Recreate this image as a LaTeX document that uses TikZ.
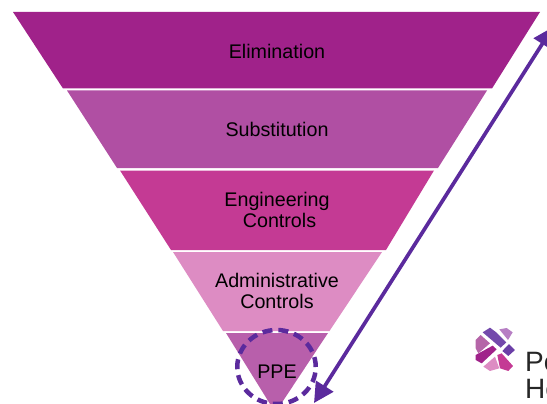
\documentclass[tikz,border=0pt]{standalone}
\usepackage{fontspec}
\setmainfont{Liberation Sans}
\usetikzlibrary{arrows.meta,shapes.geometric}
\definecolor{bandA}{HTML}{A0228A}
\definecolor{bandB}{HTML}{B04FA3}
\definecolor{bandC}{HTML}{C43A94}
\definecolor{bandD}{HTML}{DD8CC3}
\definecolor{bandE}{HTML}{B85FAB}
\definecolor{accent}{HTML}{5B2A9D}
\definecolor{logoPale}{HTML}{B77FC4}
\definecolor{logoMauve}{HTML}{B565A8}
\tikzset{
  x=1pt,y=-1pt,
  label text/.style={font=\fontsize{19.7}{20.5}\selectfont,align=center,text=black,inner sep=0pt},
  accent line/.style={draw=accent,line width=3.7pt},
  logo text/.style={font=\fontsize{28}{28}\selectfont,anchor=base west,inner sep=0pt,text=black!85}
}
\begin{document}
\begin{tikzpicture}
\useasboundingbox (0,0) rectangle (547,404);
\clip (0,0) rectangle (547,404);
% funnel bands
\fill[bandA] (13,12) -- (540,12) -- (492,88.5) -- (63,88.5) -- cycle;
\fill[bandB] (67,90.5) -- (487,90.5) -- (438,168) -- (117,168) -- cycle;
\fill[bandC] (120,170.5) -- (434,170.5) -- (386,250) -- (171,250) -- cycle;
\fill[bandD] (173,252) -- (382,252) -- (329.5,331) -- (223,331) -- cycle;
\fill[bandE] (226,333) -- (328,333) -- (281,404) -- (270,404) -- cycle;
% labels
\node[label text] (elim) at (277,51) {Elimination};
\node[label text] (subst) at (277,129) {Substitution};
\node[label text] (eng) at (277,210) {Engineering\\\hspace*{5pt}Controls};
\node[label text] (admin) at (277,291) {Administrative\\Controls};
\node[label text] (ppe) at (277,372) {PPE};
% dashed ring
\node[ellipse,draw=accent,line width=4.5pt,dash pattern=on 10pt off 6pt,minimum width=78.5pt,minimum height=74pt,inner sep=0pt] (ring) at (276.5,367) {};
% double arrow
\coordinate (low) at (314,403);
\coordinate (high) at (553,27);
\draw[accent line,{Triangle[length=20pt,width=20pt]}-{Triangle[length=20pt,width=20pt]}] (low) -- (high);
% logo (traced in 3x crop units)
\begin{scope}[shift={(440pt,-300pt)},x=.3333pt,y=-.3333pt]
\fill[accent!85] (128,97) -- (150,83) -- (170,98) -- (199,127) -- (182,143) -- cycle;
\fill[logoPale] (178,88) -- (200,84) -- (218,97) -- (204,120) -- cycle;
\fill[accent!90] (187,153) -- (207,132) -- (225,150) -- (205,168) -- cycle;
\fill[logoMauve] (107,120) -- (122,105) -- (150,130) -- (115,160) -- (107,145) -- cycle;
\fill[bandA] (107,165) -- (158,137) -- (170,148) -- (125,190) -- (107,180) -- cycle;
\fill[bandC] (172,165) -- (185,160) -- (219,198) -- (205,213) -- (180,205) -- cycle;
\fill[bandD] (130,200) -- (165,170) -- (178,205) -- (150,213) -- cycle;
\end{scope}
\node[logo text] (pe) at (525,371) {Pe};
\node[logo text] (he) at (525,398) {He};
\end{tikzpicture}
\end{document}
